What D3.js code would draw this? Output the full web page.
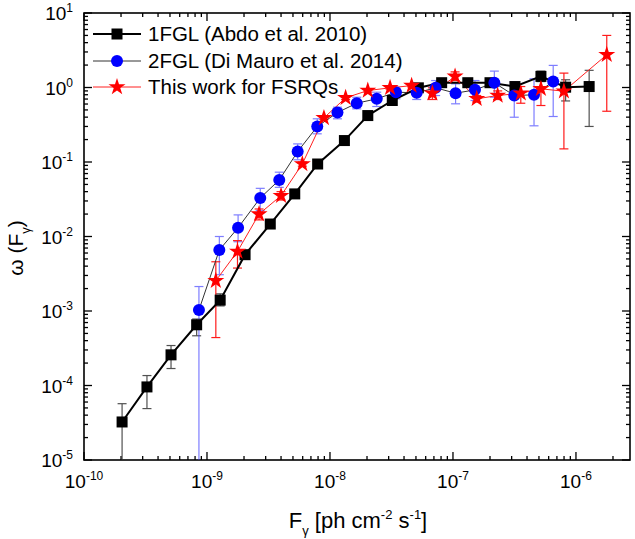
<!DOCTYPE html>
<html>
<head>
<meta charset="utf-8">
<script src="https://cdn.jsdelivr.net/npm/d3@7"></script>
<style>
  body { margin: 0; background: #fff; }
  text { font-family: "Liberation Sans", Arial, sans-serif; fill: #000; }
</style>
</head>
<body>
<div id="chart"></div>
<script>
// 1FGL (Abdo et al. 2010)
var fglFlux = [2.04e-10, 3.25e-10, 5.1e-10, 8.24e-10, 1.28e-9, 2.04e-9, 3.27e-9, 5.17e-9, 7.94e-9, 1.31e-8,
               2.03e-8, 3.21e-8, 5.23e-8, 8.09e-8, 1.32e-7, 2.0e-7, 3.19e-7, 5.19e-7, 8.24e-7, 1.28e-6];
var fglW    = [3.24e-5, 9.57e-5, 2.58e-4, 6.53e-4, 1.4e-3, 5.7e-3, 1.47e-2, 3.73e-2, 9.4e-2, 0.194,
               0.42, 0.669, 0.99, 1.16, 1.16, 1.16, 1.03, 1.41, 1.01, 1.03];
var fglHi   = [5.7e-5, 1.36e-4, 3.44e-4, 7.8e-4, 1.7e-3, 6.3e-3, 1.6e-2, 4.0e-2, 0.1, 0.205,
               0.44, 0.7, 1.04, 1.22, 1.22, 1.22, 1.1, 1.66, 1.27, 1.7];
var fglLo   = [1e-6, 4.9e-5, 1.69e-4, 4.65e-4, 1.17e-3, 5.1e-3, 1.35e-2, 3.45e-2, 8.8e-2, 0.184,
               0.4, 0.64, 0.94, 1.1, 1.1, 1.1, 0.96, 1.2, 0.66, 0.3];

// 2FGL (Di Mauro et al. 2014)
var dmFlux = [8.6e-10, 1.26e-9, 1.79e-9, 2.71e-9, 3.87e-9, 5.46e-9, 7.88e-9, 1.15e-8, 1.65e-8, 2.4e-8,
              3.44e-8, 5.07e-8, 7.23e-8, 1.05e-7, 1.51e-7, 2.17e-7, 3.15e-7, 4.56e-7, 6.53e-7];
var dmW    = [1.03e-3, 6.59e-3, 1.31e-2, 3.29e-2, 5.74e-2, 0.138, 0.299, 0.461, 0.615, 0.705,
              0.865, 0.849, 0.99, 0.838, 0.93, 1.157, 0.78, 0.798, 1.2];
var dmHi   = [2.13e-3, 1.0e-2, 1.95e-2, 4.43e-2, 7.3e-2, 0.175, 0.38, 0.544, 0.74, 0.865,
              0.98, 0.99, 1.24, 1.12, 1.24, 1.66, 1.18, 1.31, 1.98];
var dmLo   = [1e-6, 3.07e-3, 8.5e-3, 2.22e-2, 4.57e-2, 0.107, 0.239, 0.38, 0.517, 0.556,
              0.705, 0.69, 0.78, 0.604, 0.669, 0.74, 0.399, 0.306, 0.408];

// This work for FSRQs
var twFlux = [1.18e-9, 1.77e-9, 2.65e-9, 4.0e-9, 5.96e-9, 8.93e-9, 1.34e-8, 2.03e-8, 3.08e-8, 4.61e-8,
              6.8e-8, 1.04e-7, 1.56e-7, 2.31e-7, 3.56e-7, 5.19e-7, 7.98e-7, 1.78e-6];
var twW    = [2.55e-3, 6.3e-3, 2.0e-2, 3.53e-2, 9.43e-2, 0.391, 0.727, 0.91, 0.99, 1.06,
              0.838, 1.41, 0.705, 0.78, 0.838, 0.96, 0.892, 2.75];
var twHi   = [4.58e-3, 8.8e-3, 2.34e-2, 4.0e-2, 0.1, 0.41, 0.76, 0.95, 1.03, 1.1,
              0.99, 1.62, 0.78, 0.9, 1.03, 1.37, 1.56, 5.0];
var twLo   = [4.4e-4, 3.77e-3, 1.67e-2, 3.09e-2, 8.8e-2, 0.37, 0.69, 0.87, 0.95, 1.02,
              0.69, 1.24, 0.64, 0.69, 0.615, 0.573, 0.15, 0.48];

var legendLabels = ["1FGL (Abdo et al. 2010)", "2FGL (Di Mauro et al. 2014)", "This work for FSRQs"];
var xTickExp = [-10, -9, -8, -7, -6];
var yTickExp = [1, 0, -1, -2, -3, -4, -5];

var W = 635, H = 539;
var margin = {top: 13, right: 5, bottom: 79, left: 84},
    width = W - margin.left - margin.right,
    height = H - margin.top - margin.bottom;

var x = d3.scaleLog().domain([1e-10, 2.75e-6]).range([0, width]);
var y = d3.scaleLog().domain([1e-5, 10]).range([height, 0]);

var svg = d3.select("#chart").append("svg")
    .attr("width", W).attr("height", H)
  .append("g")
    .attr("transform", "translate(" + margin.left + "," + margin.top + ")");

svg.append("clipPath").attr("id", "clip")
  .append("rect").attr("width", width).attr("height", height);

function zip(f, w, hi, lo) {
  return f.map(function(d, i) { return {x: d, y: w[i], hi: hi[i], lo: lo[i]}; });
}
var fgl = zip(fglFlux, fglW, fglHi, fglLo),
    dm = zip(dmFlux, dmW, dmHi, dmLo),
    tw = zip(twFlux, twW, twHi, twLo);

// ticks (inward), all four sides
var minorX = [], minorY = [];
for (var e = -10; e <= -6; e++) for (var k = 1; k <= 9; k++) {
  var v = k * Math.pow(10, e);
  if (v <= 2.75e-6) minorX.push(v);
}
for (var e2 = -5; e2 <= 1; e2++) for (var k2 = 1; k2 <= 9; k2++) {
  var v2 = k2 * Math.pow(10, e2);
  if (v2 <= 10) minorY.push(v2);
}
function isMajor(v) { return Math.abs(Math.log10(v) - Math.round(Math.log10(v))) < 1e-6; }

var ticks = svg.append("g").attr("stroke", "#000").attr("stroke-width", 1.3);
minorX.forEach(function(v) {
  var len = isMajor(v) ? 8 : 4, px = x(v);
  ticks.append("line").attr("x1", px).attr("x2", px).attr("y1", height).attr("y2", height - len);
  ticks.append("line").attr("x1", px).attr("x2", px).attr("y1", 0).attr("y2", len);
});
minorY.forEach(function(v) {
  var len = isMajor(v) ? 8 : 4, py = y(v);
  ticks.append("line").attr("x1", 0).attr("x2", len).attr("y1", py).attr("y2", py);
  ticks.append("line").attr("x1", width).attr("x2", width - len).attr("y1", py).attr("y2", py);
});

svg.append("rect").attr("width", width).attr("height", height)
  .attr("fill", "none").attr("stroke", "#000").attr("stroke-width", 1.6);

// tick labels
xTickExp.forEach(function(e) {
  var t = svg.append("text").attr("x", x(Math.pow(10, e))).attr("y", height + 28)
    .attr("text-anchor", "middle").style("font-size", "19px");
  t.append("tspan").text("10");
  t.append("tspan").attr("dy", -8).style("font-size", "12px").text(String(e));
});
yTickExp.forEach(function(e) {
  var t = svg.append("text").attr("x", -11).attr("y", y(Math.pow(10, e)) + 7)
    .attr("text-anchor", "end").style("font-size", "19px");
  t.append("tspan").text("10");
  t.append("tspan").attr("dy", -8).style("font-size", "12px").text(String(e));
});

// axis titles
var xt = svg.append("text").attr("x", 274).attr("y", height + 68)
  .attr("text-anchor", "middle").style("font-size", "22px");
xt.append("tspan").text("F");
xt.append("tspan").attr("dy", 7).style("font-size", "13px").text("γ");
xt.append("tspan").attr("dy", -7).text(" [ph cm");
xt.append("tspan").attr("dy", -9).style("font-size", "13px").text("-2");
xt.append("tspan").attr("dy", 9).text(" s");
xt.append("tspan").attr("dy", -9).style("font-size", "13px").text("-1");
xt.append("tspan").attr("dy", 9).text("]");

var yt = svg.append("text")
  .attr("transform", "translate(" + (-61) + "," + 235 + ") rotate(-90)")
  .attr("text-anchor", "middle").style("font-size", "21px");
yt.append("tspan").text("ω (F");
yt.append("tspan").attr("dy", 7).style("font-size", "13px").text("γ");
yt.append("tspan").attr("dy", -7).text(")");

var plot = svg.append("g").attr("clip-path", "url(#clip)");
var line = d3.line().x(function(d) { return x(d.x); }).y(function(d) { return y(d.y); });

function errBars(data, color, opacity) {
  var g = plot.append("g").attr("stroke", color).attr("stroke-width", 1.2).attr("opacity", opacity);
  data.forEach(function(d) {
    var px = x(d.x);
    g.append("line").attr("x1", px).attr("x2", px).attr("y1", y(d.hi)).attr("y2", y(d.lo));
    g.append("line").attr("x1", px - 4.5).attr("x2", px + 4.5).attr("y1", y(d.hi)).attr("y2", y(d.hi));
    g.append("line").attr("x1", px - 4.5).attr("x2", px + 4.5).attr("y1", y(d.lo)).attr("y2", y(d.lo));
  });
}

errBars(fgl, "#333", 0.85);
errBars(dm, "#3a3aff", 0.65);
errBars(tw, "#ff1a1a", 1);

plot.append("path").datum(tw).attr("d", line)
  .attr("fill", "none").attr("stroke", "#ff2020").attr("stroke-width", 1);
plot.append("path").datum(dm).attr("d", line)
  .attr("fill", "none").attr("stroke", "#333").attr("stroke-width", 1);
plot.append("path").datum(fgl).attr("d", line)
  .attr("fill", "none").attr("stroke", "#000").attr("stroke-width", 2);

var star = d3.symbol().type(d3.symbolStar).size(90);

function squares(g, data) {
  g.selectAll(".sq").data(data).enter().append("rect")
    .attr("x", function(d) { return x(d.x) - 5.5; })
    .attr("y", function(d) { return y(d.y) - 5.5; })
    .attr("width", 11).attr("height", 11).attr("fill", "#000");
}
function circles(g, data) {
  g.selectAll(".ci").data(data).enter().append("circle")
    .attr("cx", function(d) { return x(d.x); })
    .attr("cy", function(d) { return y(d.y); })
    .attr("r", 6).attr("fill", "#0000ff");
}
function stars(g, data) {
  g.selectAll(".st").data(data).enter().append("path")
    .attr("d", star)
    .attr("transform", function(d) { return "translate(" + x(d.x) + "," + y(d.y) + ")"; })
    .attr("fill", "#ff0000");
}
squares(plot.append("g"), fgl);
circles(plot.append("g"), dm);
stars(plot.append("g"), tw);

// legend
var legY = [21, 48, 74];
var leg = svg.append("g");
[["#000", 2], ["#333", 1], ["#ff2020", 1]].forEach(function(s, i) {
  leg.append("line").attr("x1", 9).attr("x2", 57).attr("y1", legY[i]).attr("y2", legY[i])
    .attr("stroke", s[0]).attr("stroke-width", s[1]);
  leg.append("text").attr("x", 64).attr("y", legY[i] + 7).style("font-size", "20.5px").text(legendLabels[i]);
});
squares(leg.append("g"), [{x: x.invert(33), y: y.invert(legY[0])}]);
circles(leg.append("g"), [{x: x.invert(33), y: y.invert(legY[1])}]);
stars(leg.append("g"), [{x: x.invert(33), y: y.invert(legY[2])}]);
</script>
</body>
</html>
